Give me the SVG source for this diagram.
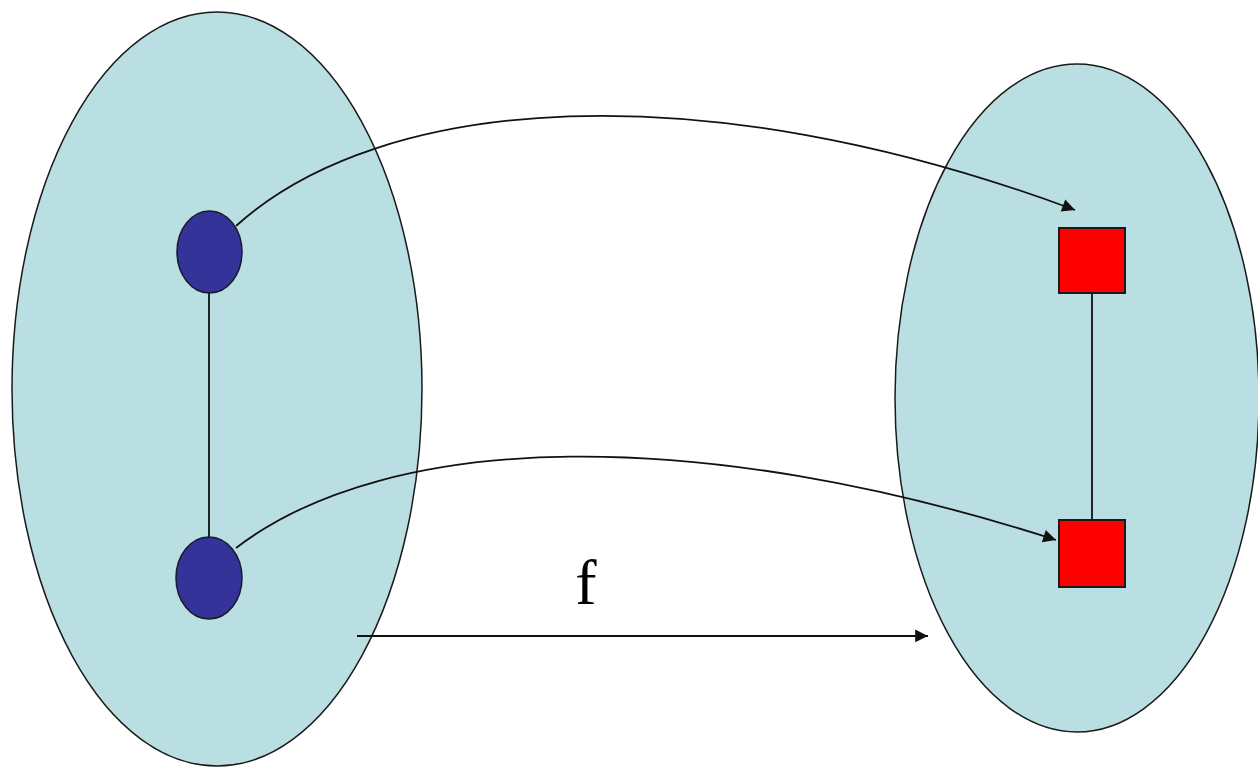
<svg xmlns="http://www.w3.org/2000/svg" width="1258" height="767" viewBox="0 0 1258 767">
<style>
.set{fill:#badfe3;stroke:#1a1a1a;stroke-width:1.5}
.pt{fill:#333399;stroke:#1a1a2a;stroke-width:1.5}
.sq{fill:#ff0000;stroke:#1a1a1a;stroke-width:2}
.edge{fill:none;stroke:#111;stroke-width:1.8}
.arr{fill:none;stroke:#111;stroke-width:1.8;marker-end:url(#ah)}
</style>
<defs>
<marker id="ah" viewBox="0 0 10 10" refX="10" refY="5" markerWidth="8" markerHeight="8" markerUnits="userSpaceOnUse" orient="auto" overflow="visible">
<path d="M0,0 L10,5 L0,10 z" fill="#111" transform="scale(1.6) translate(-3.75,-1.9)"/>
</marker>
</defs>
<rect width="1258" height="767" fill="#fff"/>
<g id="setA"><ellipse class="set" cx="217" cy="389" rx="205" ry="377"/></g>
<g id="setB"><ellipse class="set" cx="1077" cy="398" rx="182" ry="334"/></g>
<g id="connectors">
<line class="edge" x1="209" y1="293" x2="209" y2="537"/>
<line class="edge" x1="1092" y1="293" x2="1092" y2="520"/>
<path class="arr" d="M236,226 C380,95 700,70 1075,210"/>
<path class="arr" d="M236,548 C390,430 700,425 1056,540"/>
<line class="arr" x1="357" y1="636" x2="928" y2="636"/>
</g>
<g id="a1"><ellipse class="pt" cx="209.5" cy="252" rx="32.5" ry="41"/></g>
<g id="a2"><ellipse class="pt" cx="209" cy="578" rx="33" ry="41"/></g>
<g id="b1"><rect class="sq" x="1059" y="228" width="66" height="65"/></g>
<g id="b2"><rect class="sq" x="1059" y="520" width="66" height="67"/></g>
<g id="label"><text x="586" y="604" font-family="Liberation Serif, serif" font-size="64" text-anchor="middle" fill="#000">f</text></g>
</svg>
